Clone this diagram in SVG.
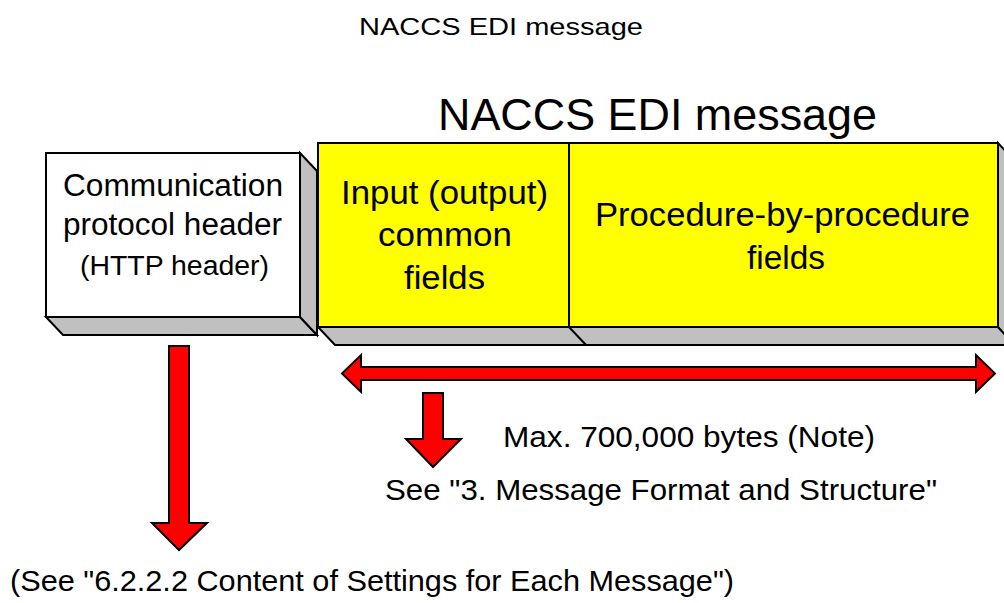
<svg xmlns="http://www.w3.org/2000/svg" width="1004" height="603" viewBox="0 0 1004 603">
<style>
text{font-family:"Liberation Sans",Arial,sans-serif;fill:#000}
.face{fill:#ffffff;stroke:#000;stroke-width:2}
.yel{fill:#ffff00;stroke:#000;stroke-width:2}
.side{fill:#c0c0c0;stroke:#000;stroke-width:2;stroke-linejoin:miter}
.arr{fill:#ff0000;stroke:#000;stroke-width:2;stroke-linejoin:miter}
</style>
<rect width="1004" height="603" fill="#fff"/>
<text x="359" y="35" font-size="24" textLength="284" lengthAdjust="spacingAndGlyphs">NACCS EDI message</text>
<text x="438" y="130" font-size="45" textLength="439" lengthAdjust="spacingAndGlyphs">NACCS EDI message</text>
<g id="node-header">
<polygon class="side" points="46,317 300,317 317,335 63,335"/>
<polygon class="side" points="300,153 317,171 317,335 300,317"/>
<rect class="face" x="46" y="153" width="254" height="164"/>
<text x="63" y="196" font-size="31" textLength="220" lengthAdjust="spacingAndGlyphs">Communication</text>
<text x="63" y="235" font-size="31" textLength="219" lengthAdjust="spacingAndGlyphs">protocol header</text>
<text x="80" y="275" font-size="27" textLength="189" lengthAdjust="spacingAndGlyphs">(HTTP header)</text>
</g>
<g id="node-message">
<polygon class="side" points="318,327 998,327 1015,345 335,345"/>
<polygon class="side" points="998,143 1015,161 1015,345 998,327"/>
<line x1="569" y1="327" x2="586" y2="345" stroke="#000" stroke-width="2"/>
<rect class="yel" x="318" y="143" width="680" height="184"/>
<line x1="569" y1="143" x2="569" y2="327" stroke="#000" stroke-width="2"/>
</g>
<g id="node-common">
<text x="341" y="204" font-size="33" textLength="207" lengthAdjust="spacingAndGlyphs">Input (output)</text>
<text x="378" y="246" font-size="33" textLength="134" lengthAdjust="spacingAndGlyphs">common</text>
<text x="404" y="289" font-size="33" textLength="81" lengthAdjust="spacingAndGlyphs">fields</text>
</g>
<g id="node-procedure">
<text x="595" y="226" font-size="34" textLength="375" lengthAdjust="spacingAndGlyphs">Procedure-by-procedure</text>
<text x="747" y="269" font-size="34" textLength="78" lengthAdjust="spacingAndGlyphs">fields</text>
</g>
<g id="connectors">
<polygon class="arr" points="169,346 189,346 189,523 207,523 179,550 152,523 169,523"/>
<polygon class="arr" points="342,373.5 361,355 361,367 976,367 976,355 995,373.5 976,392 976,380 361,380 361,392"/>
<polygon class="arr" points="423,393 443,393 443,439 461,439 433,467 406,439 423,439"/>
</g>
<g id="labels">
<text x="503" y="447" font-size="30" textLength="372" lengthAdjust="spacingAndGlyphs">Max. 700,000 bytes (Note)</text>
<text x="385" y="500" font-size="30" textLength="552" lengthAdjust="spacingAndGlyphs">See "3. Message Format and Structure"</text>
<text x="10" y="591" font-size="30" textLength="724" lengthAdjust="spacingAndGlyphs">(See "6.2.2.2 Content of Settings for Each Message")</text>
</g>
</svg>
